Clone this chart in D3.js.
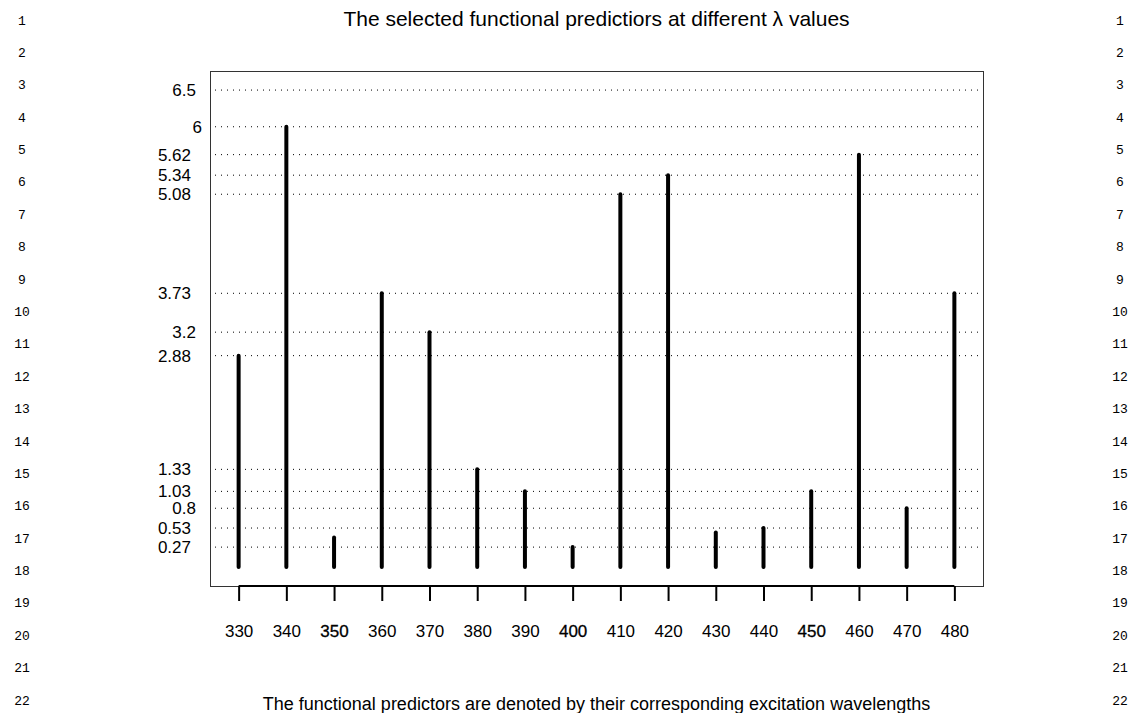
<!DOCTYPE html>
<html><head><meta charset="utf-8">
<script src="https://cdn.jsdelivr.net/npm/d3@7"></script>
<style>body{margin:0;background:#fff}svg{display:block}</style>
</head><body>
<script>
const wavelengths = [330,340,350,360,370,380,390,400,410,420,430,440,450,460,470,480];
const lambdaValues = [2.88,6,0.4,3.73,3.2,1.33,1.03,0.27,5.08,5.34,0.47,0.53,1.03,5.62,0.8,3.73];
const yTickValues = [6.5,6,5.62,5.34,5.08,3.73,3.2,2.88,1.33,1.03,0.8,0.53,0.27];
const boldTicks = [350,400,450];
const lineNumbers = d3.range(1,23);
const titleText = "The selected functional predictiors at different \u03bb values";
const captionText = "The functional predictors are denoted by their corresponding excitation wavelengths";

const W=1135,H=713;
const plot={left:210,right:983,top:71,bottom:586};
const svg=d3.select("body").append("svg").attr("width",W).attr("height",H);
const font="Liberation Sans, Arial, Helvetica, sans-serif";

const x=d3.scaleLinear().domain([324,486]).range([plot.left,plot.right]);
const y=d3.scaleLinear().domain([-0.26,6.76]).range([plot.bottom,plot.top]);

// line numbers
const ln=d3.scaleLinear().domain([1,22]).range([20,700]);
[22,1120].forEach(cx=>{
  svg.append("g").selectAll("text").data(lineNumbers).join("text")
    .attr("x",cx).attr("y",d=>ln(d)).attr("dy","0.35em").attr("text-anchor","middle")
    .attr("font-family","Liberation Mono, DejaVu Sans Mono, monospace").attr("font-size",13)
    .text(d=>d);
});

// grid
svg.append("g").selectAll("line").data(yTickValues).join("line")
  .attr("x1",plot.left+5).attr("x2",plot.right-3)
  .attr("y1",d=>y(d)).attr("y2",d=>y(d))
  .attr("stroke","#000").attr("stroke-width",1).attr("stroke-dasharray","1,5");

// y labels
svg.append("g").selectAll("text").data(yTickValues).join("text")
  .attr("x",d=>{const s=String(d);return s.includes(".")?(s.split(".")[1].length>1?191:196):202;})
  .attr("y",d=>y(d)).attr("dy","0.35em").attr("text-anchor","end")
  .attr("font-family",font).attr("font-size",17).text(d=>d);

// box
svg.append("rect").attr("x",plot.left+0.5).attr("y",plot.top+0.5)
  .attr("width",plot.right-plot.left).attr("height",plot.bottom-plot.top)
  .attr("fill","none").attr("stroke","#333").attr("stroke-width",1);

// bars
svg.append("g").selectAll("line").data(wavelengths).join("line")
  .attr("x1",d=>x(d)).attr("x2",d=>x(d))
  .attr("y1",y(0)).attr("y2",(d,i)=>y(lambdaValues[i]))
  .attr("stroke","#000").attr("stroke-width",4).attr("stroke-linecap","round");

// x axis
const xAxis=d3.axisBottom(x).tickValues(wavelengths).tickSize(15).tickPadding(24).tickFormat(d3.format("d"));
const gx=svg.append("g").attr("transform",`translate(0,${plot.bottom})`).call(xAxis);
gx.select(".domain").attr("d",`M${x(330)},0H${x(480)}`).attr("stroke","#000").attr("stroke-width",2);
gx.selectAll(".tick line").attr("stroke","#000").attr("stroke-width",2);
gx.selectAll(".tick text").attr("font-family",font).attr("font-size",17).attr("fill","#000")
  .attr("stroke",d=>boldTicks.includes(d)?"#000":"none").attr("stroke-width",0.3);

// title
const cx=(plot.left+plot.right)/2;
svg.append("text").attr("x",cx).attr("y",26).attr("text-anchor","middle")
  .attr("font-family",font).attr("font-size",21).text(titleText);
svg.append("text").attr("x",cx).attr("y",710).attr("text-anchor","middle")
  .attr("font-family",font).attr("font-size",18).text(captionText);
</script>
</body></html>
